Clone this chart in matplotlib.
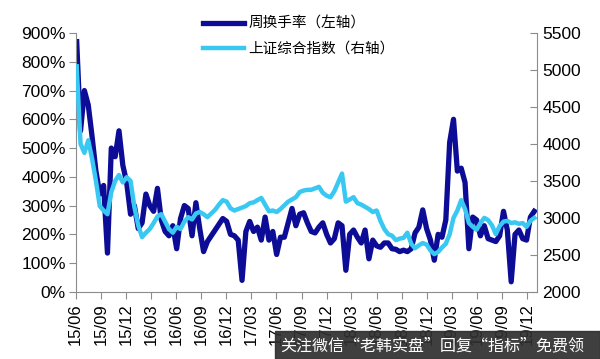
import matplotlib
matplotlib.use("Agg")
import matplotlib.pyplot as plt
import matplotlib.dates as mdates
import pandas as pd

# biweekly observations, Jun 2015 - Jan 2020
dates = pd.date_range("2015-06-05", periods=120, freq="14D")

turnover = [
    870, 560, 700, 650, 540, 420, 340, 370, 135, 500,
    470, 560, 440, 380, 270, 300, 220, 240, 340, 300,
    280, 360, 250, 210, 195, 230, 150, 255, 300, 290,
    195, 310, 220, 140, 175, 195, 215, 235, 255, 245,
    200, 195, 180, 40, 210, 245, 210, 225, 180, 260,
    180, 210, 130, 190, 190, 240, 290, 230, 270, 275,
    240, 210, 205, 225, 240, 200, 170, 185, 240, 230,
    75, 200, 215, 190, 170, 215, 115, 180, 160, 155,
    170, 170, 150, 148, 140, 145, 140, 150, 205, 225,
    285, 220, 180, 110, 200, 190, 250, 520, 600, 420,
    430, 380, 150, 260, 250, 195, 230, 185, 180, 175,
    195, 280, 215, 35, 200, 215, 185, 180, 260, 280,
]

sh_index = [
    5050, 4000, 3880, 4050, 3800, 3500, 3160, 3100, 3050, 3350,
    3500, 3580, 3480, 3550, 3500, 3150, 2900, 2740, 2800, 2850,
    2930, 3020, 3050, 2950, 2850, 2800, 2880, 2850, 2950, 3010,
    2980, 3060, 3080, 3050, 3010, 3060, 3110, 3180, 3240, 3220,
    3130, 3100, 3120, 3140, 3160, 3200, 3210, 3240, 3270, 3180,
    3090, 3100, 3080, 3120, 3170, 3220, 3250, 3280, 3350, 3370,
    3380, 3380, 3400, 3420, 3340, 3300, 3280, 3360, 3480, 3600,
    3220, 3250, 3280, 3200, 3180, 3150, 3120, 3080, 3100, 2960,
    2850, 2780, 2760, 2700, 2720, 2730, 2800, 2650, 2590, 2630,
    2660, 2640, 2560, 2510, 2540, 2600, 2650, 2780, 3000, 3100,
    3240, 3120, 2930, 2880, 2840, 2930, 3000, 2970, 2900, 2780,
    2890, 2950, 2960, 2930, 2940, 2920, 2930, 2880, 2960, 3000,
]

label_turn = "周换手率（左轴）"
label_idx = "上证综合指数（右轴）"

dark = "#0c0c96"
light = "#38c8f2"
gray = "#8c8c8c"

fig = plt.figure(figsize=(6, 3.59), dpi=100)
ax = fig.add_axes([0.126, 0.187, 0.769, 0.721])
ax2 = ax.twinx()

l1, = ax.plot(dates, turnover, color=dark, lw=3.8, solid_joinstyle="round")
l2, = ax2.plot(dates, sh_index, color=light, lw=3.2, solid_joinstyle="round")

ax.set_ylim(0, 900)
ax.set_yticks(range(0, 901, 100))
ax.set_yticklabels([f"{v}%" for v in range(0, 901, 100)])
ax2.set_ylim(2000, 5500)
ax2.set_yticks(range(2000, 5501, 500))
ax.set_xlim(pd.Timestamp("2015-06-01"), pd.Timestamp("2020-01-06"))

ax.xaxis.set_major_locator(mdates.MonthLocator(bymonth=[3, 6, 9, 12]))
ax.xaxis.set_major_formatter(mdates.DateFormatter("%y/%m"))

tick_font = dict(family="Liberation Sans", size=12.5)
for lab in ax.get_yticklabels() + ax2.get_yticklabels():
    lab.set_fontproperties(tick_font)
for lab in ax.get_xticklabels():
    lab.set_fontproperties(dict(family="Liberation Sans", size=12))
    lab.set_rotation(90)

for a in (ax, ax2):
    a.spines["top"].set_visible(False)
    for s in ("left", "right", "bottom"):
        a.spines[s].set_color(gray)
ax.spines["right"].set_visible(False)
ax2.spines["left"].set_visible(False)
ax2.spines["bottom"].set_visible(False)
ax.tick_params(axis="y", direction="out", length=5, color=gray, pad=2)
ax.tick_params(axis="x", direction="out", length=5, color=gray, pad=3)
ax2.tick_params(axis="y", direction="in", length=5, color=gray, pad=4)

fig.legend([l1, l2], [label_turn, label_idx], loc="upper left",
           bbox_to_anchor=(0.317, 0.99), frameon=False, handlelength=2.8,
           handletextpad=0.3, labelspacing=0.75,
           prop=dict(family=["Noto Sans CJK SC", "DejaVu Sans"], size=10.5))

# watermark band at the bottom
fig.patches.append(plt.Rectangle((275 / 600, 0), 325 / 600, 28 / 359,
                                 transform=fig.transFigure, color="#2e2e2e",
                                 alpha=0.92, zorder=10))
fig.text(280 / 600, 13 / 359, "关注微信“老韩实盘”回复“指标”免费领",
         color="white", fontsize=11.5, va="center", ha="left", zorder=11,
         family=["Noto Sans CJK SC", "DejaVu Sans"])

fig.savefig("out.png", dpi=100)
